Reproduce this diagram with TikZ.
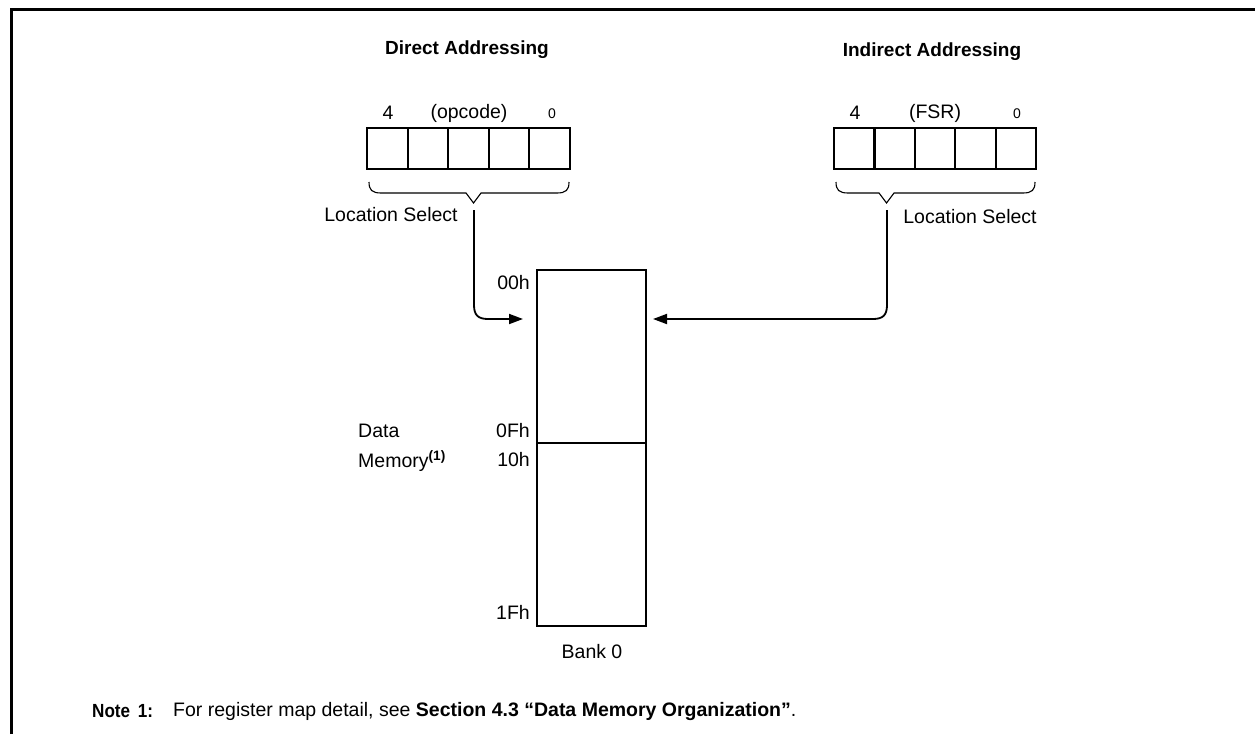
\documentclass[tikz,border=0pt]{standalone}
\usepackage{fontspec}
\setmainfont{Liberation Sans}
\usetikzlibrary{arrows.meta}
\begin{document}
\begin{tikzpicture}[x=1pt,y=-1pt,
  txt/.style={inner sep=0pt,font=\fontsize{19.5}{23}\selectfont},
  small/.style={inner sep=0pt,font=\fontsize{14}{17}\selectfont},
  ttl/.style={inner sep=0pt,font=\fontsize{19}{23}\selectfont\bfseries},
  cell/.style={draw,line width=2pt,minimum width=40.6pt,minimum height=41pt,inner sep=0pt},
  brc/.style={line width=1.1pt},
  conn/.style={line width=1.8pt,-{Triangle[length=14pt,width=10pt]}},
  conntail/.style={line width=1.8pt}]
\useasboundingbox (0,0) rectangle (1255,734);
% frame
\draw[line width=3pt] (11,734) -- (11,9.5) -- (1255,9.5);
% titles
\node[ttl] (tdir) at (467,50) {Direct Addressing};
\node[ttl] (tind) at (932,52) {Indirect Addressing};
% direct register
\foreach \i in {0,...,4} {\node[cell] (d\i) at (387.3+40.6*\i,148.5) {};}
\node[txt] (d4l) at (388,113) {4};
\node[txt] (dop) at (469,113) {(opcode)};
\node[small] (d0l) at (552,114) {0};
% indirect register
\foreach \i in {0,...,4} {\node[cell] (f\i) at (854.3+40.4*\i,148.5) {};}
\node[txt] (f4l) at (855,113) {4};
\node[txt] (ffsr) at (935,113) {(FSR)};
\node[small] (f0l) at (1017,114) {0};
% braces
\draw[brc] (369,182) .. controls (369,190) and (372,193) .. (381,193) -- (466,193) -- (473.5,203) -- (481,193) -- (557,193) .. controls (566,193) and (569,190) .. (569,182);
\draw[brc] (836,182) .. controls (836,190) and (839,193) .. (848,193) -- (879,193) -- (886.5,203) -- (894,193) -- (1023,193) .. controls (1032,193) and (1035,190) .. (1035,182);
\coordinate (dtip) at (474,210);
\coordinate (ftip) at (887,210);
\node[txt] (dls) at (391,215) {Location Select};
\node[txt] (fls) at (970,217) {Location Select};
% memory
\node[draw,line width=2pt,minimum width=109pt,minimum height=356pt,inner sep=0pt] (mem) at (591.5,448) {};
\draw[line width=2pt] (mem.west |- 0,443) -- (mem.east |- 0,443);
\coordinate (din) at (537,319);
\coordinate (fin) at (646,319);
\node[txt,anchor=east] (a00) at (530,283) {00h};
\node[txt,anchor=east] (a0f) at (530,431) {0Fh};
\node[txt,anchor=east] (a10) at (530,460) {10h};
\node[txt,anchor=east] (a1f) at (530,612) {1Fh};
\node[txt,anchor=west] (dm1) at (358,431) {Data};
\node[txt,anchor=west] (dm2) at (358,461) {Memory\textsuperscript{\bfseries(1)}};
\node[txt] (bank) at (592,652) {Bank 0};
% connectors
\draw[conn,shorten >=14pt] (dtip) -- (474,305) .. controls (474,315) and (478,319) .. (488,319) -- (din);
\draw[conn,shorten >=7pt] (ftip) -- (887,305) .. controls (887,315) and (883,319) .. (873,319) -- (fin);
% note
\node[txt,anchor=west,font=\fontsize{19}{23}\selectfont\bfseries] (note) at (92,711) {\scalebox{0.9}[1]{Note\hspace{0.45em}1:}};
\node[txt,anchor=west] (notet) at (173,711) {For register map detail, see \textbf{Section 4.3 “Data Memory Organization”}.};
\end{tikzpicture}
\end{document}
